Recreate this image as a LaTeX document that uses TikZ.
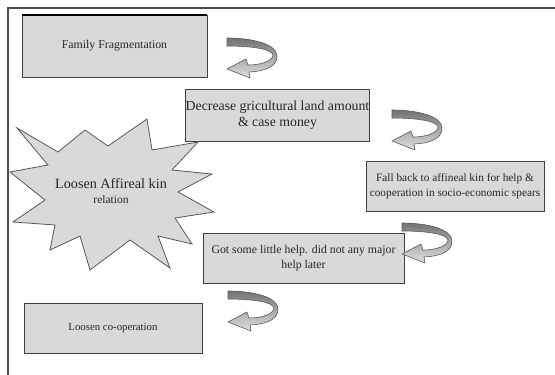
\documentclass[tikz,border=0pt]{standalone}
\usepackage{fontspec}
\setmainfont{Liberation Serif}
\begin{document}
\begin{tikzpicture}[x=1pt,y=-1pt,
  box/.style={draw=black!75,line width=0.8pt,fill=black!15,inner sep=0pt,outer sep=0pt,align=center,text=black!85},
  twirlstyle/.style={draw=black!65,line width=0.6pt,top color=black!55,bottom color=black!12},
  twirl/.pic={
    \path[twirlstyle] (0,0) .. controls (25,0) and (50,6) .. (50,18)
      .. controls (50,28) and (40,33) .. (22,34) -- (23,40) -- (0,31) -- (19,21) -- (21,27)
      .. controls (36,27) and (46,22) .. (46,17)
      .. controls (45,11) and (25,8) .. (0,8) -- cycle;
  }]
\useasboundingbox (0,0) rectangle (555,375);
% frame
\draw[black!70,line width=1.2pt] (555,8) -- (8,8) -- (8,375);
% boxes
\node[box,minimum width=185pt,minimum height=62pt,font=\fontsize{11.8}{14}\selectfont] (ff) at (114.5,46) {Family Fragmentation};
\draw[black,line width=2.5pt] (ff.north west) -- (ff.north east);
\node[box,minimum width=179pt,minimum height=52pt,font=\fontsize{13.8}{16}\selectfont] (dec) at (277.5,115) {Decrease gricultural land amount\\\& case money};
\node[box,minimum width=178pt,minimum height=50pt,font=\fontsize{11.3}{15}\selectfont] (fb) at (455,186) {Fall back to affineal kin for help \&\\cooperation in socio-economic spears};
\node[box,minimum width=201pt,minimum height=50pt,font=\fontsize{11.8}{15}\selectfont] (got) at (303.5,258) {Got some little help. did not any major\\help later};
\node[box,minimum width=178pt,minimum height=50pt,font=\fontsize{10.8}{13}\selectfont] (lc) at (113,328) {Loosen co-operation};
% starburst
\filldraw[draw=black!65,line width=0.8pt,fill=black!15]
 (17,128) -- (58,152) -- (85,130) -- (108,146) -- (147,119) -- (152,150) -- (198,142) -- (172,170)
 -- (212,174) -- (178,192) -- (214,212) -- (175,218) -- (192,244) -- (158,236) -- (170,268) -- (130,240)
 -- (90,270) -- (80,236) -- (50,250) -- (55,225) -- (13,222) -- (45,200) -- (10,172) -- (48,165) -- cycle;
\node[text=black!85,inner sep=0pt] (burst) at (111,193) {\begin{tabular}{@{}c@{}}\fontsize{14.2}{16}\selectfont Loosen Affireal kin\\[3pt]\fontsize{11.5}{14}\selectfont relation\end{tabular}};
% curved arrows
\pic (a1) at (227,38) {twirl};
\pic (a2) at (392,110) {twirl};
\pic (a3) at (402,223) {twirl};
\pic (a4) at (228,291) {twirl};
\end{tikzpicture}
\end{document}
